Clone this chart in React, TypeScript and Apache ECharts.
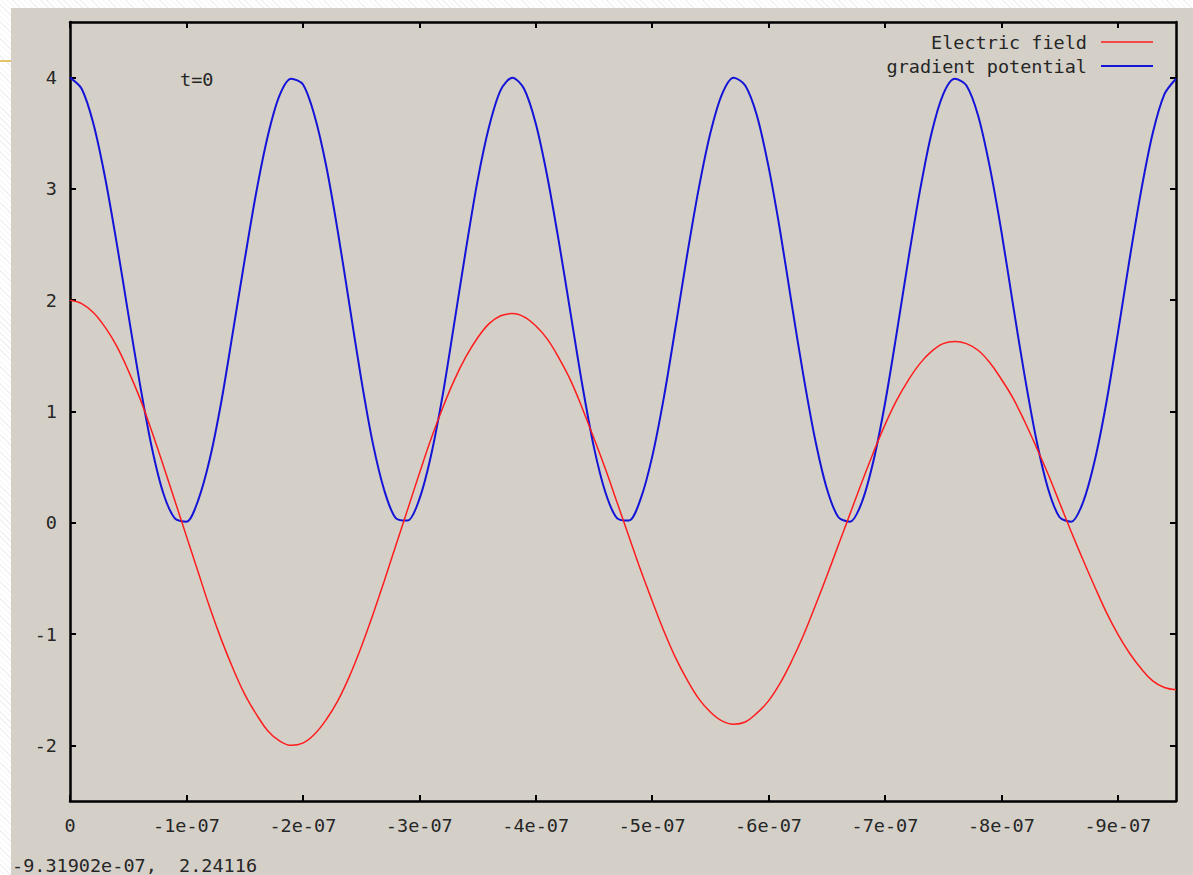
import React, { useEffect, useRef } from "react";
import * as echarts from "echarts";

// time axis values in units of 1e-7 (negative times, plotted right of 0)
const T_E7 = [
  0, -0.1, -0.2, -0.3, -0.4, -0.5, -0.6, -0.7, -0.8, -0.9,
  -1.0, -1.1, -1.2, -1.3, -1.4, -1.5, -1.6, -1.7, -1.8, -1.9,
  -2.0, -2.1, -2.2, -2.3, -2.4, -2.5, -2.6, -2.7, -2.8, -2.9,
  -3.0, -3.1, -3.2, -3.3, -3.4, -3.5, -3.6, -3.7, -3.8, -3.9,
  -4.0, -4.1, -4.2, -4.3, -4.4, -4.5, -4.6, -4.7, -4.8, -4.9,
  -5.0, -5.1, -5.2, -5.3, -5.4, -5.5, -5.6, -5.7, -5.8, -5.9,
  -6.0, -6.1, -6.2, -6.3, -6.4, -6.5, -6.6, -6.7, -6.8, -6.9,
  -7.0, -7.1, -7.2, -7.3, -7.4, -7.5, -7.6, -7.7, -7.8, -7.9,
  -8.0, -8.1, -8.2, -8.3, -8.4, -8.5, -8.6, -8.7, -8.8, -8.9,
  -9.0, -9.1, -9.2, -9.3, -9.4, -9.5,
];

const ELECTRIC_FIELD = [
  2.0, 1.97, 1.89, 1.76, 1.59, 1.37, 1.12, 0.83, 0.52, 0.2,
  -0.12, -0.44, -0.76, -1.05, -1.31, -1.54, -1.72, -1.87, -1.96, -2.0,
  -1.98, -1.9, -1.77, -1.6, -1.38, -1.12, -0.83, -0.52, -0.2, 0.12,
  0.44, 0.75, 1.03, 1.28, 1.49, 1.66, 1.79, 1.86, 1.88, 1.85,
  1.77, 1.65, 1.48, 1.28, 1.03, 0.76, 0.48, 0.18, -0.12, -0.42,
  -0.7, -0.97, -1.21, -1.41, -1.58, -1.7, -1.78, -1.81, -1.79, -1.71,
  -1.6, -1.44, -1.24, -1.01, -0.75, -0.48, -0.2, 0.08, 0.36, 0.63,
  0.88, 1.1, 1.28, 1.43, 1.54, 1.61, 1.63, 1.61, 1.55, 1.44,
  1.29, 1.12, 0.91, 0.68, 0.44, 0.18, -0.08, -0.33, -0.57, -0.8,
  -1.0, -1.17, -1.31, -1.42, -1.48, -1.5,
];

const GRADIENT_POTENTIAL = [
  4.0, 3.9, 3.59, 3.11, 2.52, 1.88, 1.25, 0.69, 0.27, 0.04,
  0.01, 0.2, 0.57, 1.09, 1.72, 2.36, 2.97, 3.48, 3.84, 3.99,
  3.94, 3.66, 3.21, 2.62, 1.96, 1.3, 0.72, 0.29, 0.04, 0.02,
  0.21, 0.6, 1.14, 1.79, 2.45, 3.07, 3.56, 3.89, 4.0, 3.9,
  3.59, 3.11, 2.52, 1.88, 1.24, 0.68, 0.27, 0.04, 0.02, 0.21,
  0.59, 1.12, 1.75, 2.4, 3.0, 3.5, 3.85, 4.0, 3.93, 3.66,
  3.2, 2.62, 1.96, 1.32, 0.75, 0.31, 0.05, 0.01, 0.18, 0.55,
  1.07, 1.7, 2.36, 2.98, 3.5, 3.85, 3.99, 3.93, 3.66, 3.2,
  2.62, 1.96, 1.32, 0.75, 0.31, 0.05, 0.01, 0.18, 0.55, 1.07,
  1.7, 2.36, 2.98, 3.5, 3.85, 3.99,
];

const X_TICKS = [0, -1, -2, -3, -4, -5, -6, -7, -8, -9];
const Y_TICKS = [-2, -1, 0, 1, 2, 3, 4];
const SERIES_NAMES = ["Electric field", "gradient potential"];
const SERIES_COLORS = ["#ff1c1c", "#1414d8"];
const ANNOTATION = "t=0";
const STATUS_TEXT = "-9.31902e-07,  2.24116";

const FONT = "'DejaVu Sans Mono', 'Liberation Mono', monospace";
const FONT_SIZE = 18.5;
const TEXT_COLOR = "#262626";

function xLabel(v: number): string {
  if (Math.abs(v) < 1e-9) return "0";
  return `${Math.round(v)}e-07`;
}

function makeXAxis(position: "bottom" | "top") {
  return {
    type: "value",
    position,
    min: -9.5,
    max: 0,
    inverse: true,
    axisLine: { show: true, onZero: false, lineStyle: { color: "#000", width: 2.5 } },
    axisTick: {
      show: true,
      inside: true,
      length: 6,
      customValues: X_TICKS,
      lineStyle: { color: "#000", width: 2 },
    },
    axisLabel: {
      show: position === "bottom",
      customValues: X_TICKS,
      formatter: xLabel,
      fontFamily: FONT,
      fontSize: FONT_SIZE,
      color: TEXT_COLOR,
      margin: 15,
    },
    splitLine: { show: false },
  };
}

function makeYAxis(position: "left" | "right") {
  return {
    type: "value",
    position,
    min: -2.5,
    max: 4.5,
    axisLine: { show: true, onZero: false, lineStyle: { color: "#000", width: 2.5 } },
    axisTick: {
      show: true,
      inside: true,
      length: 6,
      customValues: Y_TICKS,
      lineStyle: { color: "#000", width: 2 },
    },
    axisLabel: {
      show: position === "left",
      customValues: Y_TICKS,
      fontFamily: FONT,
      fontSize: FONT_SIZE,
      color: TEXT_COLOR,
      margin: 13,
    },
    splitLine: { show: false },
  };
}

export default function App() {
  const ref = useRef<HTMLDivElement>(null);

  useEffect(() => {
    document.body.style.margin = "0";
    if (!ref.current) return;
    const chart = echarts.init(ref.current, null, { renderer: "svg" });

    const seriesData = [ELECTRIC_FIELD, GRADIENT_POTENTIAL];

    const legendGraphics: any[] = [];
    SERIES_NAMES.forEach((name, i) => {
      const y = 42 + i * 24;
      legendGraphics.push({
        type: "text",
        style: {
          text: name,
          x: 1087,
          y,
          font: `${FONT_SIZE}px ${FONT}`,
          fill: TEXT_COLOR,
          textAlign: "right",
          textVerticalAlign: "middle",
          verticalAlign: "middle",
        },
      });
      legendGraphics.push({
        type: "line",
        shape: { x1: 1101, y1: y, x2: 1153, y2: y },
        style: { stroke: SERIES_COLORS[i], lineWidth: i === 0 ? 1.5 : 2 },
      });
    });

    chart.setOption({
      animation: false,
      grid: { left: 70, top: 22, right: 17, bottom: 74, show: false },
      xAxis: [makeXAxis("bottom"), makeXAxis("top")],
      yAxis: [makeYAxis("left"), makeYAxis("right")],
      series: seriesData.map((vals, i) => ({
        name: SERIES_NAMES[i],
        type: "line",
        xAxisIndex: 0,
        yAxisIndex: 0,
        symbol: "none",
        showSymbol: false,
        smooth: i === 0 ? 0.4 : 0.3,
        data: T_E7.map((t, k) => [t, vals[k]]),
        lineStyle: { color: SERIES_COLORS[i], width: i === 0 ? 1.5 : 2 },
        itemStyle: { color: SERIES_COLORS[i] },
        z: i === 0 ? 3 : 2,
      })),
      graphic: [
        ...legendGraphics,
        {
          type: "text",
          style: {
            text: ANNOTATION,
            x: 180,
            y: 79,
            font: `${FONT_SIZE}px ${FONT}`,
            fill: TEXT_COLOR,
            textAlign: "left",
            textVerticalAlign: "middle",
            verticalAlign: "middle",
          },
        },
        {
          type: "text",
          style: {
            text: STATUS_TEXT,
            x: 12,
            y: 865,
            font: `${FONT_SIZE}px ${FONT}`,
            fill: TEXT_COLOR,
            textAlign: "left",
            textVerticalAlign: "middle",
            verticalAlign: "middle",
          },
        },
      ],
    });

    return () => chart.dispose();
  }, []);

  return (
    <div
      style={{
        position: "relative",
        width: 1193,
        height: 875,
        overflow: "hidden",
        background:
          "repeating-linear-gradient(45deg, #ffffff 0px, #ffffff 3px, #f1f1f1 3px, #f1f1f1 4px)",
      }}
    >
      <div
        style={{
          position: "absolute",
          left: 11,
          top: 8,
          right: 0,
          bottom: 0,
          background: "#d4d0c8",
        }}
      />
      <div
        style={{
          position: "absolute",
          left: 0,
          top: 60,
          width: 11,
          height: 2,
          background: "#e6c46c",
        }}
      />
      <div
        ref={ref}
        style={{ position: "absolute", left: 0, top: 0, width: 1193, height: 875 }}
      />
    </div>
  );
}
